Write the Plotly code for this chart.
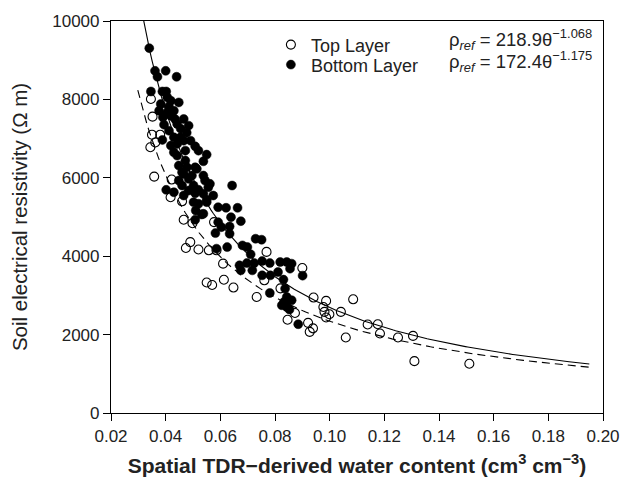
import plotly.graph_objects as go
import numpy as np

# ---------------- data ----------------
top_theta = [0.0346, 0.0352, 0.0350, 0.0380, 0.0362, 0.0344, 0.0358, 0.0422, 0.0418, 0.0460,
             0.0466, 0.0498, 0.0490, 0.0474, 0.0520, 0.0558, 0.0586, 0.0577, 0.0610, 0.0550,
             0.0570, 0.0613, 0.0648, 0.0733, 0.0769, 0.0761, 0.0820, 0.0846, 0.0873, 0.0900,
             0.0921, 0.0927, 0.0939, 0.0941, 0.0987, 0.0977, 0.0981, 0.0999, 0.0987, 0.1041,
             0.1086, 0.1059, 0.1139, 0.1176, 0.1184, 0.1250, 0.1305, 0.1310, 0.1511]
top_rho = [8010, 7560, 7100, 7100, 6900, 6780, 6030, 5955, 5505, 5400,
           4930, 4840, 4360, 4210, 4170, 4150, 4150, 4870, 3810, 3330,
           3265, 3400, 3200, 2960, 4110, 3385, 3180, 2380, 2550, 3700,
           2300, 2070, 2160, 2945, 2860, 2705, 2580, 2520, 2436, 2580,
           2900, 1927, 2257, 2265, 2028, 1927, 1967, 1323, 1255]

bottom_theta = [0.0340, 0.0361, 0.0400, 0.0370, 0.0440, 0.0346, 0.0388, 0.0402, 0.0406, 0.0448,
                0.0382, 0.0412, 0.0430, 0.0390, 0.0434, 0.0442, 0.0394, 0.0412, 0.0454, 0.0430,
                0.0388, 0.0442, 0.0508, 0.0472, 0.0430, 0.0419, 0.0405, 0.0455, 0.0466, 0.0419,
                0.0477, 0.0419, 0.0376, 0.0466, 0.0484, 0.0491, 0.0520,
                0.0442, 0.0550, 0.0472, 0.0538, 0.0448, 0.0508, 0.0466, 0.0538, 0.0484, 0.0544,
                0.0643, 0.0562, 0.0460, 0.0502, 0.0402, 0.0520, 0.0484, 0.0430, 0.0508, 0.0538,
                0.0550, 0.0502, 0.0520, 0.0510, 0.0538, 0.0508, 0.0496, 0.0478, 0.0514, 0.0460,
                0.0556, 0.0466, 0.0574, 0.0448,
                0.0550, 0.0592, 0.0621, 0.0663, 0.0532, 0.0639, 0.0675, 0.0592, 0.0604, 0.0634,
                0.0582, 0.0634, 0.0586, 0.0625, 0.0729, 0.0751, 0.0681, 0.0699, 0.0711, 0.0670,
                0.0697, 0.0724, 0.0753, 0.0781, 0.0819, 0.0843, 0.0861, 0.0675, 0.0717, 0.0753,
                0.0783, 0.0811, 0.0831, 0.0855, 0.0901, 0.0781, 0.0837, 0.0843, 0.0833, 0.0861,
                0.0843, 0.0853, 0.0885, 0.0825]
bottom_rho = [9307, 8729, 8729, 8577, 8577, 8202, 8202, 8202, 8050, 7923,
              7882, 7813, 7711, 7541, 7500, 7373, 7355, 7202, 7032, 7032,
              6966, 6864, 6803, 6693, 6650, 7584, 7660, 7253, 6948, 6821,
              7151, 7966, 7711, 7500, 7330, 6948, 6693,
              6566, 6592, 6439, 6421, 6312, 6268, 6100, 6057, 5973, 5930,
              5803, 5846, 5803, 5803, 5693, 5693, 5675, 5632, 5607, 5591,
              5439, 5378, 5337, 5166, 5082, 4930, 6057, 6268, 6228, 6141,
              5759, 5548, 5548, 5930,
              5378, 5250, 5235, 5235, 5065, 4996, 4894, 4869, 4741, 4759,
              4589, 4573, 4192, 4232, 4446, 4421, 4276, 4232, 4047, 3767,
              3825, 3825, 3876, 3825, 3851, 3851, 3810, 3639, 3639, 3512,
              3512, 3596, 3403, 3683, 3504, 3062, 3174, 2960, 2833, 2876,
              2705, 2639, 2265, 2749]

# fitted power-law curves as drawn (rho = a * theta^b)
solid_a, solid_b, solid_range = 191.0, -1.149, (0.031, 0.195)
dash_a, dash_b, dash_range = 214.0, -1.039, (0.0298, 0.195)

x_ticks = [0.02, 0.04, 0.06, 0.08, 0.10, 0.12, 0.14, 0.16, 0.18, 0.20]
x_ticklabels = ["0.02", "0.04", "0.06", "0.08", "0.10", "0.12", "0.14", "0.16", "0.18", "0.20"]
y_ticks = [0, 2000, 4000, 6000, 8000, 10000]
y_ticklabels = ["0", "2000", "4000", "6000", "8000", "10000"]

# ---------------- figure ----------------
FONT = "Liberation Sans, Arial, sans-serif"
TXT = "#222"
fig = go.Figure()

ts = np.linspace(*solid_range, 200)
fig.add_trace(go.Scatter(x=ts, y=solid_a * ts ** solid_b, mode="lines",
                         line=dict(color="black", width=1.1), showlegend=False, hoverinfo="skip"))
td = np.linspace(*dash_range, 200)
fig.add_trace(go.Scatter(x=td, y=dash_a * td ** dash_b, mode="lines",
                         line=dict(color="black", width=1.1, dash="8px,5px"), showlegend=False, hoverinfo="skip"))

fig.add_trace(go.Scatter(x=bottom_theta, y=bottom_rho, mode="markers", name="Bottom Layer",
                         marker=dict(symbol="circle", size=9, color="black", line=dict(color="black", width=0.5)),
                         cliponaxis=False, legend="legend2"))
fig.add_trace(go.Scatter(x=top_theta, y=top_rho, mode="markers", name="Top Layer",
                         marker=dict(symbol="circle-open", size=9, color="black", line=dict(width=1.1)),
                         cliponaxis=False, legend="legend"))

axis_common = dict(showline=True, linecolor="black", linewidth=1.2, mirror=True,
                   ticks="outside", ticklen=7, tickwidth=1.1, tickcolor="black",
                   showgrid=False, zeroline=False,
                   tickfont=dict(family=FONT, size=17, color=TXT))

fig.update_xaxes(range=[0.02, 0.20], tickvals=x_ticks, ticktext=x_ticklabels,
                 title=dict(text="<b>Spatial TDR\u2212derived water content (cm<sup>3</sup> cm<sup>\u22123</sup>)</b>",
                            font=dict(family=FONT, size=21, color=TXT), standoff=13),
                 **axis_common)
fig.update_yaxes(range=[0, 10000], tickvals=y_ticks, ticktext=y_ticklabels,
                 title=dict(text="Soil electrical resistivity (\u03a9 m)",
                            font=dict(family=FONT, size=20.5, color=TXT), standoff=19),
                 **axis_common)

leg_common = dict(xanchor="left", yanchor="middle", bgcolor="rgba(0,0,0,0)",
                  font=dict(family=FONT, size=18, color=TXT), itemwidth=30)
fig.update_layout(
    width=632, height=485,
    margin=dict(l=111, r=20, t=19, b=71),
    paper_bgcolor="white", plot_bgcolor="white",
    legend=dict(x=0.325, y=0.939, **leg_common),
    legend2=dict(x=0.325, y=0.888, **leg_common),
    showlegend=True,
)

eqs = ["\u03c1<sub><i>ref</i></sub> = 218.9\u03b8<sup>\u22121.068</sup>",
       "\u03c1<sub><i>ref</i></sub> = 172.4\u03b8<sup>\u22121.175</sup>"]
for i, t in enumerate(eqs):
    fig.add_annotation(x=0.683, y=0.953 - i * 0.056, xref="paper", yref="paper",
                       xanchor="left", yanchor="middle", text=t, showarrow=False,
                       font=dict(family=FONT, size=18.5, color=TXT))

fig.write_html("out.html")
